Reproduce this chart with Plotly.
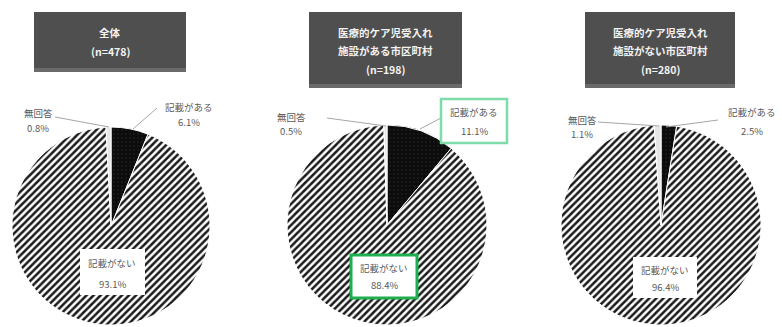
import plotly.graph_objects as go

W, H = 782, 327

# Survey breakdown per group
categories = ["記載がある", "記載がない", "無回答"]
group_titles = [
    ["全体", "(n=478)"],
    ["医療的ケア児受入れ", "施設がある市区町村", "(n=198)"],
    ["医療的ケア児受入れ", "施設がない市区町村", "(n=280)"],
]
values_all = [6.1, 93.1, 0.8]
values_with = [11.1, 88.4, 0.5]
values_without = [2.5, 96.4, 1.1]
groups = [values_all, values_with, values_without]

FONT = "Noto Sans CJK JP"
LABEL_GRAY = "#595959"


def px(x):
    return x / W


def py(y):
    return 1 - y / H


# pie geometry in pixels: (centre x, centre y, radius)
pies = [(111, 226, 99), (387, 225, 100), (661, 225, 100)]

fig = go.Figure()
for vals, (cx, cy, r) in zip(groups, pies):
    fig.add_trace(go.Pie(
        labels=categories,
        values=vals,
        sort=False,
        direction="clockwise",
        rotation=0,
        textinfo="none",
        hoverinfo="label+percent",
        showlegend=False,
        domain=dict(x=[px(cx - r), px(cx + r)], y=[py(cy + r), py(cy - r)]),
        marker=dict(
            colors=["#0c0c0c", "#ffffff", "#e6e6e6"],
            line=dict(color="white", width=1),
            pattern=dict(
                shape=[".", "/", ""],
                fgcolor=["#1c1c1c", "#1a1a1a", "#e6e6e6"],
                bgcolor=["#0c0c0c", "#ffffff", "#e6e6e6"],
                size=[4, 5, 5],
                solidity=[0.2, 0.5, 0.5],
            ),
        ),
    ))

shapes = []
annotations = []

# header boxes (x0, x1, y0, y1) and the baseline of each title line
headers = [(34, 186, 12, 72), (309, 462, 12, 88), (585, 735, 12, 88)]
line_rows = [[32, 52], [32, 51, 70], [32, 51, 70]]
for lines, rows, (x0, x1, y0, y1) in zip(group_titles, line_rows, headers):
    shapes.append(dict(type="rect", xref="paper", yref="paper",
                       x0=px(x0), x1=px(x1), y0=py(y1), y1=py(y0),
                       fillcolor="#4f4f4f", line=dict(width=0), layer="above"))
    shapes.append(dict(type="rect", xref="paper", yref="paper",
                       x0=px(x0), x1=px(x1), y0=py(y1), y1=py(y1 - 4),
                       fillcolor="#6a6a6a", line=dict(width=0), layer="above"))
    for text, yy in zip(lines, rows):
        annotations.append(dict(xref="paper", yref="paper", x=px((x0 + x1) / 2),
                                y=py(yy), text="<b>" + text + "</b>",
                                showarrow=False, xanchor="center", yanchor="middle",
                                font=dict(family=FONT, size=10.5, color="#f2f2f2")))


def label(x, y_name, y_val, name, value):
    annotations.append(dict(xref="paper", yref="paper", x=px(x), y=py(y_name),
                            text=name, showarrow=False, xanchor="center",
                            yanchor="middle",
                            font=dict(family=FONT, size=9.5, color=LABEL_GRAY)))
    annotations.append(dict(xref="paper", yref="paper", x=px(x), y=py(y_val),
                            text=f"{value:.1f}%", showarrow=False, xanchor="center",
                            yanchor="middle",
                            font=dict(family=FONT, size=9.5, color=LABEL_GRAY)))


def leader(x0, y0, x1, y1):
    shapes.append(dict(type="line", xref="paper", yref="paper",
                       x0=px(x0), y0=py(y0), x1=px(x1), y1=py(y1),
                       line=dict(color="#a6a6a6", width=1), layer="above"))


def box(x0, x1, y0, y1, border=None, width=0):
    shapes.append(dict(type="rect", xref="paper", yref="paper",
                       x0=px(x0), x1=px(x1), y0=py(y1), y1=py(y0),
                       fillcolor="white",
                       line=dict(color=border or "white", width=width),
                       layer="above"))


# 全体
leader(55, 117, 109, 127)
leader(157, 108, 133, 129)
label(38, 113, 128, categories[2], values_all[2])
label(189, 107, 122, categories[0], values_all[0])
box(80, 145, 249, 295)
label(112, 263, 284, categories[1], values_all[1])

# 施設がある
leader(327, 118, 386, 126)
leader(441, 118, 420, 129)
label(291, 117, 131, categories[2], values_with[2])
box(441, 507, 99, 143, border="#7ddcaa", width=2.5)
label(474, 112, 131, categories[0], values_with[0])
box(351, 417, 255, 298, border="#1fae4f", width=3)
label(384, 268, 285, categories[1], values_with[1])

# 施設がない
leader(598, 122, 659, 126)
leader(718, 120, 666, 127)
label(582, 120, 134, categories[2], values_without[2])
label(752, 112, 131, categories[0], values_without[0])
box(633, 697, 257, 298)
label(665, 270, 287, categories[1], values_without[1])

fig.update_layout(
    width=W, height=H,
    margin=dict(l=0, r=0, t=0, b=0),
    paper_bgcolor="white",
    plot_bgcolor="white",
    shapes=shapes,
    annotations=annotations,
    font=dict(family=FONT),
)

fig.write_html("out.html")
